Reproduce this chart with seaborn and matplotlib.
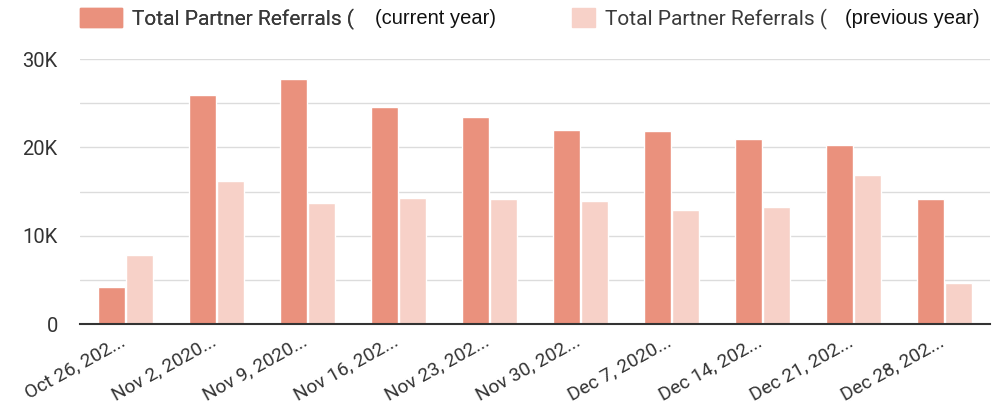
import pandas as pd
import seaborn as sns
import matplotlib.pyplot as plt
import matplotlib.transforms as mtransforms
from matplotlib.patches import Patch
from matplotlib.ticker import FuncFormatter

# weekly partner referrals
weeks = ["Oct 26, 202...", "Nov 2, 2020...", "Nov 9, 2020...", "Nov 16, 202...",
         "Nov 23, 202...", "Nov 30, 202...", "Dec 7, 2020...", "Dec 14, 202...",
         "Dec 21, 202...", "Dec 28, 202..."]
current_year = [4200, 25900, 27700, 24600, 23400, 22000, 21800, 21000, 20300, 14100]
previous_year = [7800, 16200, 13700, 14300, 14100, 13900, 12900, 13300, 16900, 4600]
series_names = ["current", "previous"]
colors = ["#EA917D", "#F7D1C8"]

df = pd.DataFrame({
    'week': weeks * 2,
    'value': current_year + previous_year,
    'series': [series_names[0]] * len(weeks) + [series_names[1]] * len(weeks),
})

sns.set_style("white")
plt.rcParams['font.family'] = ['Roboto', 'DejaVu Sans']

fig = plt.figure(figsize=(9.92, 4.15), dpi=100)
ax = fig.add_axes([80 / 992, 1 - 324 / 415, 910 / 992, (324 - 59) / 415])

sns.barplot(data=df, x='week', y='value', hue='series', palette=colors,
            width=0.63, gap=0.05, saturation=1, ax=ax, legend=False)

ax.set_ylim(0, 30000)
ax.set_xlim(-0.5, len(weeks) - 0.5)
ax.set_yticks(range(0, 30001, 5000))
ax.yaxis.set_major_formatter(FuncFormatter(
    lambda v, p: ("0" if v == 0 else f"{int(v/1000)}K") if v % 10000 == 0 else ""))
ax.grid(axis='y', color='#dcdcdc', linewidth=1)
ax.set_axisbelow(True)
for s in ['top', 'right', 'left']:
    ax.spines[s].set_visible(False)
ax.spines['bottom'].set_color('#333333')
ax.spines['bottom'].set_linewidth(1.5)
ax.tick_params(axis='y', length=0, labelsize=14.5, labelcolor='#333333', pad=16)
ax.tick_params(axis='x', length=0, labelsize=13.8, labelcolor='#333333', pad=6)
shift = mtransforms.ScaledTranslation(-6 / 100, 0, fig.dpi_scale_trans)
for lbl in ax.get_xticklabels():
    lbl.set_rotation(29)
    lbl.set_ha('right')
    lbl.set_rotation_mode('anchor')
    lbl.set_transform(lbl.get_transform() + shift)
ax.set_xlabel('')
ax.set_ylabel('')

# legend, two entries with their own swatch sizes
leg_kw = dict(loc='center left', frameon=False, fontsize=15, handleheight=1.0,
              handletextpad=0.5, borderpad=0, borderaxespad=0, labelcolor='#3a3a3a')
leg1 = fig.legend(handles=[Patch(color=colors[0])], labels=["Total Partner Referrals ("],
                  bbox_to_anchor=(80 / 992, 1 - 19 / 415), handlelength=2.0, **leg_kw)
fig.legend(handles=[Patch(color=colors[1])], labels=["Total Partner Referrals ("],
           bbox_to_anchor=(572 / 992, 1 - 19 / 415), handlelength=1.1, **leg_kw)
fig.add_artist(leg1)
fig.text(375 / 992, 1 - 19 / 415, "(current year)", fontsize=14.5, va='center',
         family=['Liberation Sans'], color='#111111')
fig.text(845 / 992, 1 - 19 / 415, "(previous year)", fontsize=14.5, va='center',
         family=['Liberation Sans'], color='#111111')

fig.savefig('out.png', dpi=100)
